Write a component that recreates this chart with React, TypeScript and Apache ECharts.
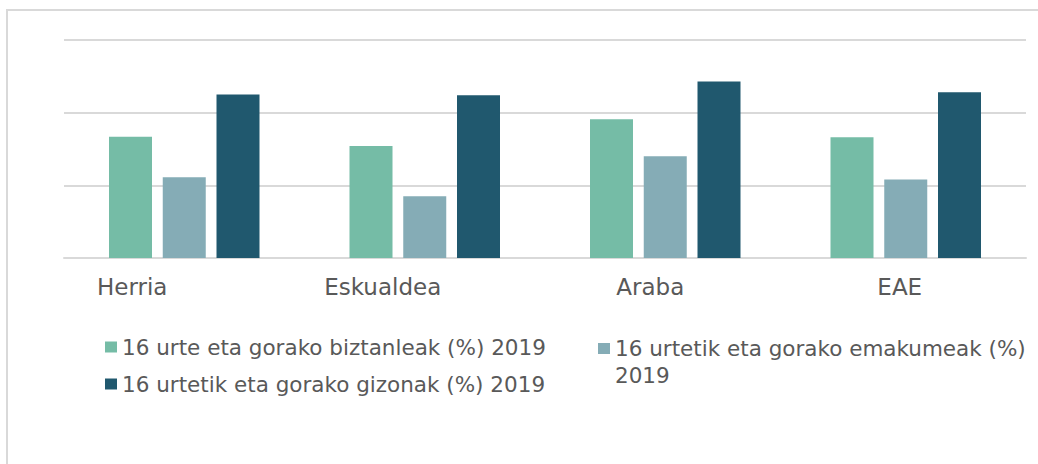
import React, { useEffect, useRef } from "react";
import * as echarts from "echarts";

const categories = ["Herria", "Eskualdea", "Araba", "EAE"];
const seriesNames = [
  "16 urte eta gorako biztanleak (%) 2019",
  "16 urtetik eta gorako emakumeak (%) 2019",
  "16 urtetik eta gorako gizonak (%) 2019",
];
const biztanleak = [16.7, 15.4, 19.1, 16.6];
const emakumeak = [11.1, 8.5, 14.0, 10.8];
const gizonak = [22.5, 22.4, 24.3, 22.8];
const yTicks = [0, 10, 20, 30];

// label horizontal offsets (px, leftwards) as seen in the reference
const labelShift = [52, 42, 15, 6];
const colors = ["#75BCA6", "#85ACB6", "#20586E"];

const FONT = "'DejaVu Sans', Verdana, sans-serif";
const TXT = "#595959";
const GRID = "#d9d9d9";

export default function App() {
  const ref = useRef<HTMLDivElement>(null);
  useEffect(() => {
    if (!ref.current) return;
    const chart = echarts.init(ref.current, undefined, { renderer: "svg" });
    const values = [biztanleak, emakumeak, gizonak];
    const legendText = { color: TXT, fontSize: 21.5, fontFamily: FONT };
    chart.setOption({
      animation: false,
      textStyle: { fontFamily: FONT },
      grid: { left: 64, right: 12, top: 40, bottom: 206, containLabel: false },
      xAxis: {
        type: "category",
        data: categories.map((c, i) => ({
          value: c,
          textStyle: { padding: [0, labelShift[i] * 2, 0, 0] },
        })),
        axisTick: { show: false },
        axisLine: { lineStyle: { color: GRID, width: 2 } },
        axisLabel: { color: TXT, fontSize: 23, fontFamily: FONT, margin: 17 },
      },
      yAxis: {
        type: "value",
        min: yTicks[0],
        max: yTicks[yTicks.length - 1],
        interval: yTicks[1] - yTicks[0],
        axisLabel: { show: false },
        axisLine: { show: false },
        axisTick: { show: false },
        splitLine: { lineStyle: { color: GRID, width: 2 } },
      },
      legend: [
        {
          data: [seriesNames[0]],
          left: 105,
          top: 336,
          padding: 0,
          itemWidth: 12,
          itemHeight: 11,
          icon: "rect",
          textStyle: legendText,
        },
        {
          data: [seriesNames[1]],
          left: 598,
          top: 308,
          padding: 0,
          itemWidth: 12,
          itemHeight: 11,
          icon: "rect",
          formatter: () => "\n16 urtetik eta gorako emakumeak (%)\n2019",
          textStyle: { ...legendText, lineHeight: 27 },
        },
        {
          data: [seriesNames[2]],
          left: 105,
          top: 373,
          padding: 0,
          itemWidth: 12,
          itemHeight: 11,
          icon: "rect",
          textStyle: legendText,
        },
      ],
      graphic: [
        {
          type: "rect",
          shape: { x: 7, y: 10, width: 1300, height: 700 },
          style: { fill: "none", stroke: GRID, lineWidth: 2 },
          silent: true,
        },
      ],
      series: seriesNames.map((name, i) => ({
        name,
        type: "bar",
        data: values[i],
        barWidth: 43,
        barGap: "25%",
        itemStyle: { color: colors[i] },
      })),
    });
    return () => chart.dispose();
  }, []);
  return (
    <div
      ref={ref}
      style={{ position: "absolute", left: 0, top: 0, width: 1038, height: 464, background: "#fff" }}
    />
  );
}
